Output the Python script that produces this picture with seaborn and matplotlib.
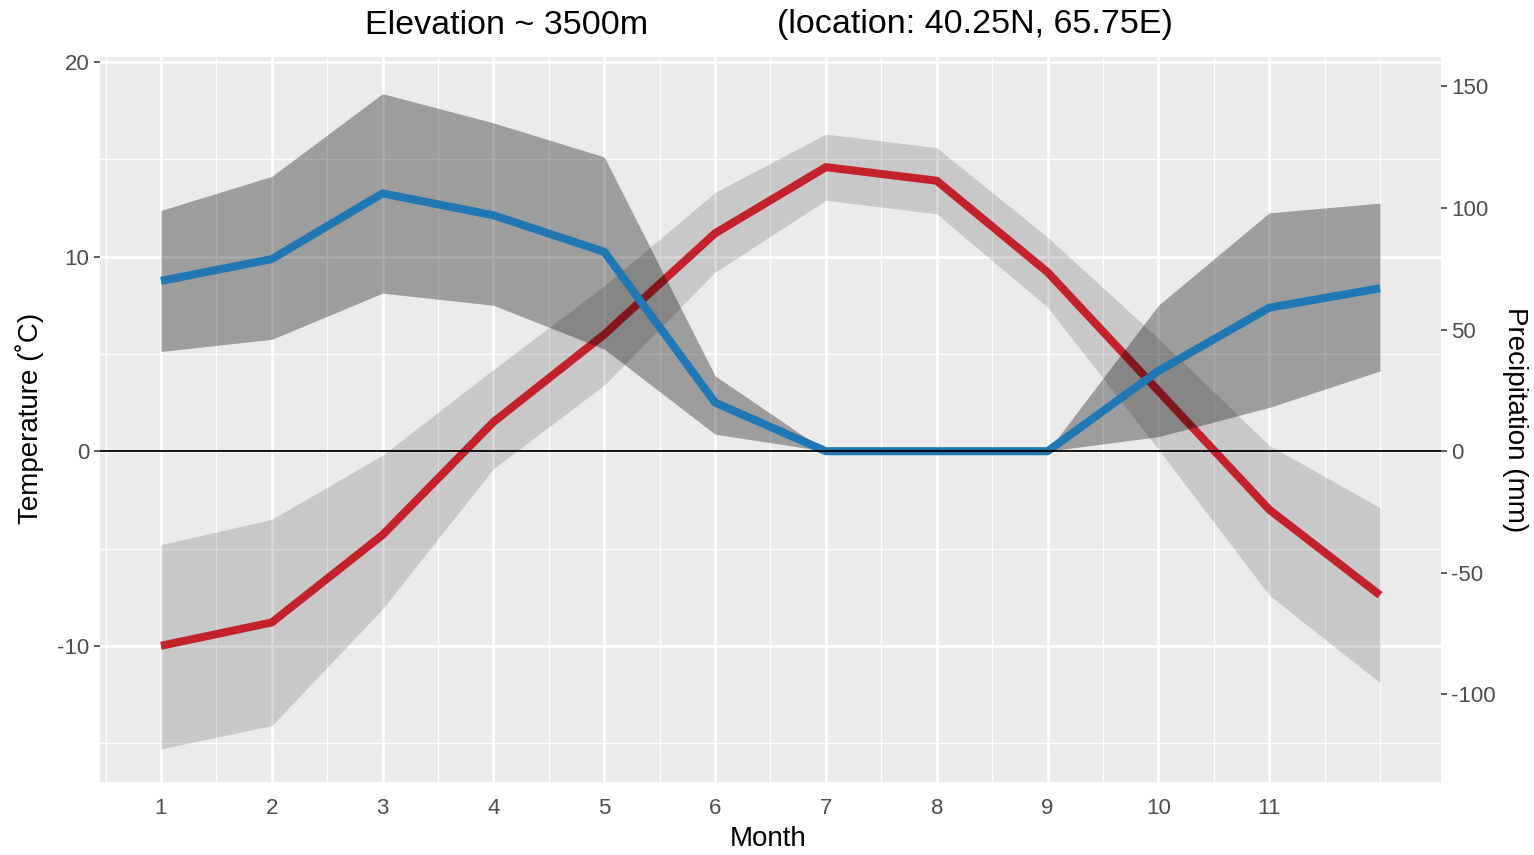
import numpy as np
import pandas as pd
import matplotlib
matplotlib.use("Agg")
import matplotlib.pyplot as plt
from matplotlib.ticker import FixedLocator
import seaborn as sns

# ---------------- data ----------------
months = [1, 2, 3, 4, 5, 6, 7, 8, 9, 10, 11, 12]
temp_mean = [-10.0, -8.8, -4.3, 1.5, 6.0, 11.2, 14.6, 13.9, 9.2, 3.1, -3.0, -7.4]
temp_low = [-15.3, -14.1, -8.1, -0.9, 3.4, 9.2, 12.9, 12.2, 7.4, 0.1, -7.4, -11.9]
temp_high = [-4.8, -3.5, -0.2, 4.2, 8.5, 13.3, 16.3, 15.6, 11.0, 5.8, 0.3, -2.9]
precip_mean = [70, 79, 106, 97, 82, 20, 0, 0, 0, 33, 59, 67]
precip_low = [41, 46, 65, 60, 42, 7, 0, 0, 0, 6, 18, 33]
precip_high = [99, 113, 147, 135, 121, 31, 0, 0, 0, 60, 98, 102]
x_ticks = [1, 2, 3, 4, 5, 6, 7, 8, 9, 10, 11]
y_ticks_left = [-10, 0, 10, 20]
y_ticks_right = [-100, -50, 0, 50, 100, 150]
title_left = "Elevation ~ 3500m"
title_right = "(location: 40.25N, 65.75E)"
x_label = "Month"
y_label_left = "Temperature (\u02daC)"
y_label_right = "Precipitation (mm)"
scale = 8.0  # mm per degree C on the secondary axis

df_t = pd.DataFrame({"month": months, "temp": temp_mean})
df_p = pd.DataFrame({"month": months, "precip": precip_mean})

# ---------------- style ----------------
sns.set_theme(style="darkgrid")
plt.rcParams['font.family'] = ['Liberation Sans', 'DejaVu Sans']

W, H = 1534, 855
fig = plt.figure(figsize=(W / 100, H / 100), dpi=100)
fig.patch.set_facecolor("white")

L, R, T, B = 100, 1441, 57, 782
ax = fig.add_axes([L / W, 1 - B / H, (R - L) / W, (B - T) / H])
ax.set_facecolor("#EBEBEB")
for s in ax.spines.values():
    s.set_visible(False)

xlim = (0.45, 12.55)
ylim = (-17.0, 20.26)
ax.set_xlim(*xlim)
ax.set_ylim(*ylim)

ax.xaxis.set_major_locator(FixedLocator(x_ticks))
ax.xaxis.set_minor_locator(FixedLocator(list(np.arange(0.5, 12.01, 0.5))))
ax.yaxis.set_major_locator(FixedLocator(y_ticks_left))
ax.yaxis.set_minor_locator(FixedLocator([-15, -5, 5, 15]))
ax.set_xticklabels([str(m) for m in x_ticks])
ax.set_yticklabels([str(v) for v in y_ticks_left])
ax.grid(which="major", color="white", linewidth=1.8)
ax.grid(which="minor", color="white", linewidth=0.9)
ax.set_axisbelow(True)
ax.tick_params(which="major", axis="both", length=4.5, width=1.1, color="#333333",
               labelcolor="#4D4D4D", labelsize=16, direction="out")
ax.tick_params(which="major", axis="x", pad=7)
ax.tick_params(which="major", axis="y", pad=3)
ax.tick_params(which="minor", length=0)

# temperature ribbon + line
ax.fill_between(months, temp_low, temp_high, color="black", alpha=0.15, linewidth=0)
sns.lineplot(data=df_t, x="month", y="temp", ax=ax, color="#C4222A", linewidth=5.8,
             estimator=None, sort=False, solid_capstyle="butt", solid_joinstyle="round")
ax.set_xlabel("")
ax.set_ylabel("")

# precipitation on the secondary axis
ax2 = ax.twinx()
ax2.set_ylim(ylim[0] * scale, ylim[1] * scale)
ax2.set_xlim(*xlim)
ax2.grid(False)
for s in ax2.spines.values():
    s.set_visible(False)
ax2.fill_between(months, precip_low, precip_high, color="black", alpha=0.33, linewidth=0)
sns.lineplot(data=df_p, x="month", y="precip", ax=ax2, color="#1F77B4", linewidth=5.8,
             estimator=None, sort=False, solid_capstyle="butt", solid_joinstyle="round")
ax2.axhline(0, color="black", linewidth=1.3)
ax2.yaxis.set_major_locator(FixedLocator(y_ticks_right))
ax2.set_yticklabels([str(v) for v in y_ticks_right])
ax2.tick_params(axis="y", length=4.5, width=1.1, color="#333333", labelcolor="#4D4D4D",
                labelsize=16, pad=3, direction="out")
ax2.set_xlabel("")
ax2.set_ylabel("")

# titles and axis labels
fig.text(507 / W, 1 - 25 / H, title_left, ha="center", va="center", fontsize=24.5, color="black")
fig.text(975 / W, 1 - 25 / H, title_right, ha="center", va="center", fontsize=24.5, color="black")
fig.text(768 / W, 1 - 839 / H, x_label, ha="center", va="center", fontsize=20, color="black")
fig.text(30 / W, 1 - 418 / H, y_label_left, ha="center", va="center", rotation=90,
         fontsize=20, color="black")
fig.text(1515 / W, 1 - 420 / H, y_label_right, ha="center", va="center", rotation=270,
         fontsize=20, color="black")

fig.savefig("out.png", dpi=100, facecolor="white")
